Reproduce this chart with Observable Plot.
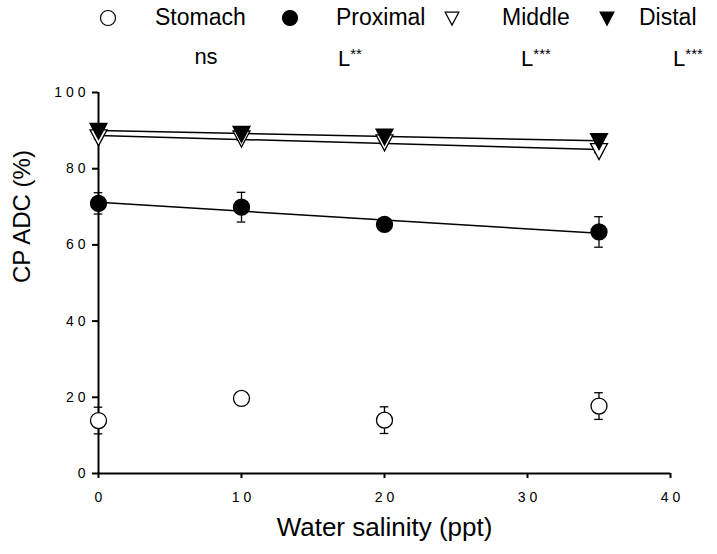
<!DOCTYPE html>
<html>
<head>
<meta charset="utf-8">
<script src="https://cdn.jsdelivr.net/npm/d3@7"></script>
<script src="https://cdn.jsdelivr.net/npm/@observablehq/plot@0.6"></script>
<style>
  body { margin: 0; background: #fff; font-family: "Liberation Sans", Arial, sans-serif; }
  #wrap { position: relative; width: 717px; height: 554px; overflow: hidden; }
  #wrap svg.plot { position: absolute; left: 0; top: 0; }
  .lg { position: absolute; font-size: 23px; color: #000; white-space: nowrap; line-height: 1; }
  .sig { position: absolute; font-size: 22px; color: #000; white-space: nowrap; line-height: 1; transform: translateX(-50%); }
  .sig sup { font-size: 15px; vertical-align: 7px; }
  .sym { position: absolute; overflow: visible; }
</style>
</head>
<body>
<div id="wrap"></div>
<script>
// Crude protein apparent digestibility along the gut at four water salinities
const salinity   = [0, 10, 20, 35];
const stomach    = [13.9, 19.7, 14.0, 17.7];
const stomachSE  = [3.5, 0.6, 3.5, 3.5];
const proximal   = [70.9, 69.9, 65.4, 63.4];
const proximalSE = [2.8, 3.9, 0.8, 4.0];
const middle     = [88.3, 88.0, 87.0, 84.7];
const middleSE   = [0.5, 0.5, 0.5, 0.5];
const distal     = [90.0, 89.2, 88.5, 87.3];
const distalSE   = [0.5, 0.5, 0.5, 0.5];

const sections     = ["Stomach", "Proximal", "Middle", "Distal"];
const significance = ["ns", "L**", "L***", "L***"];
const fitted       = [false, true, true, true];
const xTicks = [0, 10, 20, 30, 40];
const yTicks = [0, 20, 40, 60, 80, 100];

const means = [stomach, proximal, middle, distal];
const errors = [stomachSE, proximalSE, middleSE, distalSE];

// long-format table built from the arrays above
const rows = sections.flatMap((s, i) =>
  salinity.map((x, j) => ({section: s, x, y: means[i][j], se: errors[i][j], fit: fitted[i]}))
);

// downward-pointing triangle symbol
const triangleDown = {
  draw(context, size) {
    const r = Math.sqrt(size / Math.PI);
    context.moveTo(-1.06 * r, -0.9 * r);
    context.lineTo(1.06 * r, -0.9 * r);
    context.lineTo(0, 1.1 * r);
    context.closePath();
  }
};
const symbolOf = {Stomach: "circle", Proximal: "circle", Middle: triangleDown, Distal: triangleDown};
const fillOf = {Stomach: "white", Proximal: "black", Middle: "white", Distal: "black"};

const spaced = d => String(d).split("").join(" ");
const font = '"Liberation Sans", Arial, sans-serif';

const chart = Plot.plot({
  width: 717,
  height: 554,
  marginLeft: 98,
  marginRight: 47,
  marginTop: 92,
  marginBottom: 81,
  style: {fontFamily: font, background: "transparent", color: "black", overflow: "visible"},
  x: {domain: [0, 40]},
  y: {domain: [0, 100]},
  marks: [
    Plot.axisX({ticks: xTicks, tickFormat: spaced, tickSize: 5, tickPadding: 14, fontSize: 14, strokeWidth: 2, label: null}),
    Plot.axisY({ticks: yTicks, tickFormat: spaced, tickSize: 6, tickPadding: 7, fontSize: 14, strokeWidth: 2, label: null}),
    Plot.ruleY([0], {stroke: "black", strokeWidth: 2}),
    Plot.ruleX([0], {stroke: "black", strokeWidth: 2}),
    // error bars with caps
    Plot.ruleX(rows, {x: "x", y1: d => d.y - d.se, y2: d => d.y + d.se, stroke: "black", strokeWidth: 1.3}),
    Plot.ruleY(rows, {y: d => d.y + d.se, x1: d => d.x - 0.3, x2: d => d.x + 0.3, stroke: "black", strokeWidth: 1.3}),
    Plot.ruleY(rows, {y: d => d.y - d.se, x1: d => d.x - 0.3, x2: d => d.x + 0.3, stroke: "black", strokeWidth: 1.3}),
    // linear fits for the sections with a significant linear trend
    Plot.linearRegressionY(rows.filter(d => d.fit), {x: "x", y: "y", z: "section", stroke: "black", strokeWidth: 1.5, ci: 0}),
    // section means
    ...sections.map(s => Plot.dot(rows.filter(d => d.section === s), {
      x: "x", y: "y", r: 8, symbol: symbolOf[s], fill: fillOf[s], stroke: "black", strokeWidth: 1.3
    })),
    // axis titles
    Plot.text(["Water salinity (ppt)"], {frameAnchor: "bottom", dy: 62, fontSize: 26, text: d => d}),
    Plot.text(["CP ADC (%)"], {frameAnchor: "left", dx: -76, rotate: -90, fontSize: 24, text: d => d})
  ]
});

const wrap = document.getElementById("wrap");
wrap.appendChild(chart);

// legend row and significance row above the plot
const legendSymX = [108, 290, 452, 607];
const legendTextX = [155, 336, 502, 639];
const sigX = [206, 350, 536, 688];
const legendY = 18;

sections.forEach((s, i) => {
  const svg = d3.create("svg").attr("class", "sym")
    .attr("width", 22).attr("height", 22)
    .style("left", (legendSymX[i] - 11) + "px").style("top", (legendY - 11) + "px");
  const g = svg.append("g").attr("transform", "translate(11,11)");
  const isCircle = symbolOf[s] === "circle";
  const r = isCircle ? 7.5 : 6.5;
  g.append("path").attr("d", d3.symbol(isCircle ? d3.symbolCircle : triangleDown, Math.PI * r * r)())
    .attr("fill", fillOf[s]).attr("stroke", "black").attr("stroke-width", 1.2);
  wrap.appendChild(svg.node());

  const t = document.createElement("div");
  t.className = "lg";
  t.textContent = s;
  t.style.left = legendTextX[i] + "px";
  t.style.top = (legendY - 12) + "px";
  wrap.appendChild(t);

  const m = significance[i].match(/^([^*]*)(\**)$/);
  const sg = document.createElement("div");
  sg.className = "sig";
  sg.textContent = m[1];
  if (m[2]) {
    const sup = document.createElement("sup");
    sup.textContent = m[2];
    sg.appendChild(sup);
  }
  sg.style.left = sigX[i] + "px";
  sg.style.top = "46px";
  wrap.appendChild(sg);
});
</script>
</body>
</html>
